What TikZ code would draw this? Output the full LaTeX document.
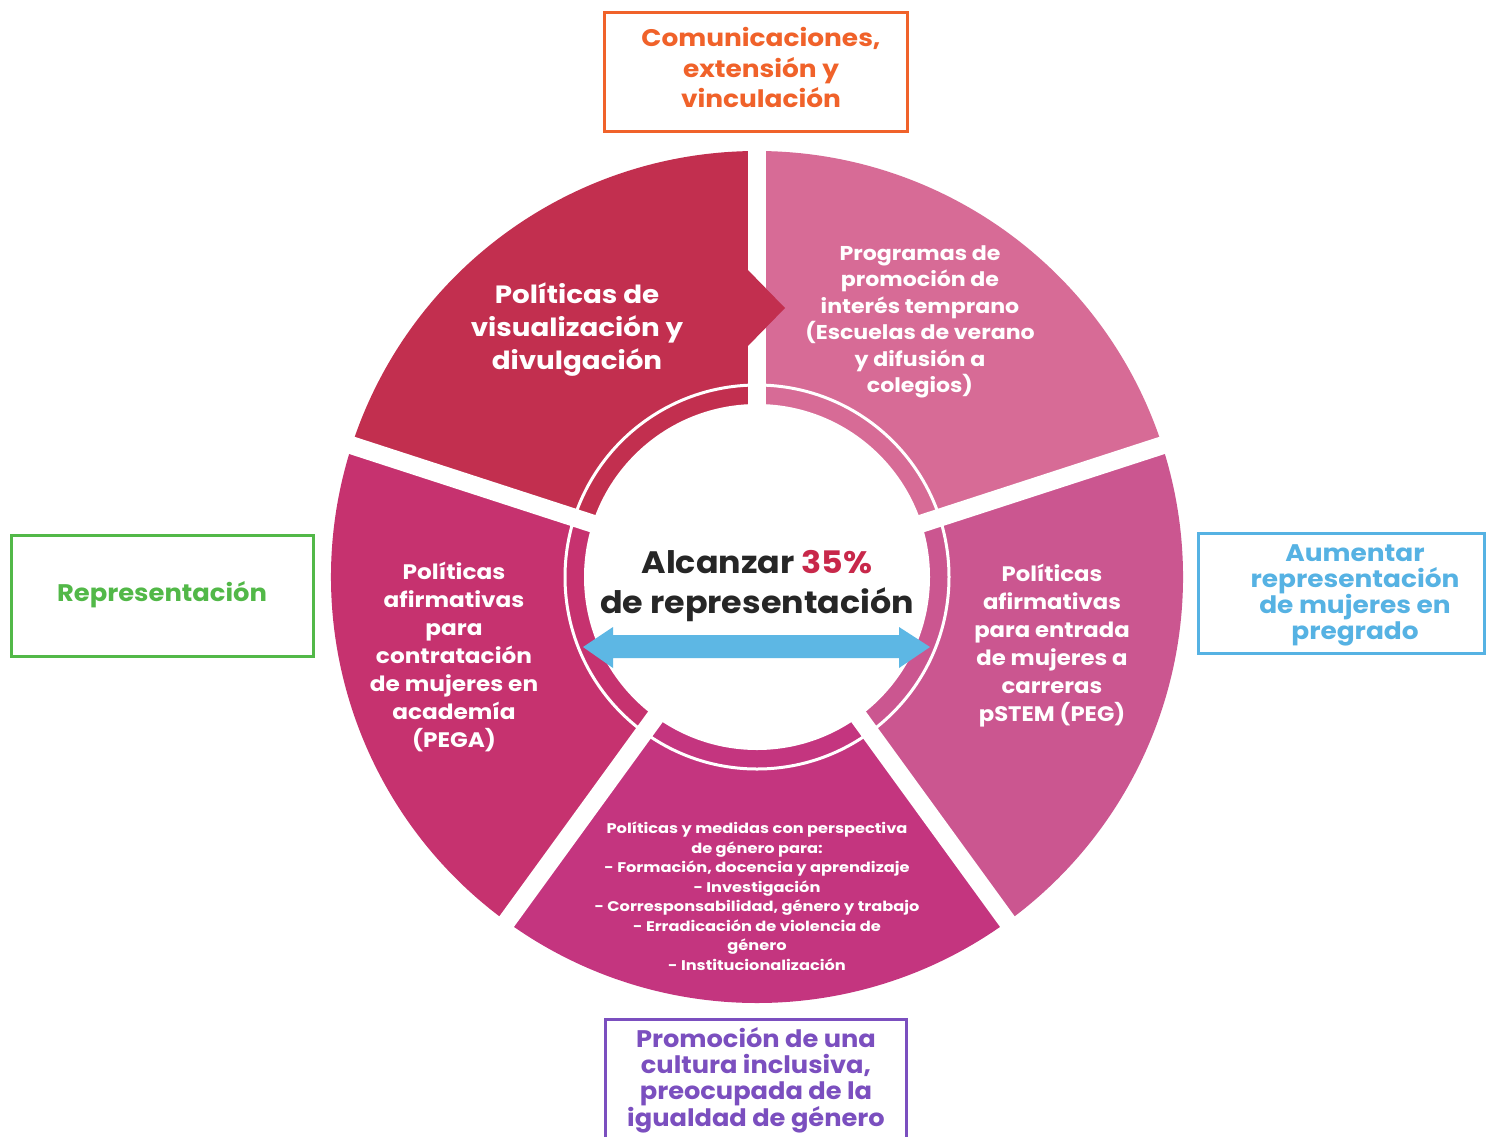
\documentclass[tikz,border=0pt]{standalone}
\usepackage{fontspec}
\setmainfont{Poppins}
\usetikzlibrary{calc}
\newcommand\pfont[3]{\bfseries\fontsize{#1}{#2}\selectfont\addfontfeatures{FakeStretch=#3}}
\definecolor{tlcol}{RGB}{194,47,79}
\definecolor{trcol}{RGB}{215,107,150}
\definecolor{rcol}{RGB}{203,86,144}
\definecolor{bcol}{RGB}{196,53,127}
\definecolor{lcol}{RGB}{198,50,111}
\definecolor{arrblue}{RGB}{93,183,228}
\definecolor{redpct}{RGB}{200,40,74}
\definecolor{darktxt}{RGB}{38,38,38}
\definecolor{orangebox}{RGB}{240,98,42}
\definecolor{greenbox}{RGB}{82,184,72}
\definecolor{bluebox}{RGB}{86,178,227}
\definecolor{purplebox}{RGB}{123,79,191}
\tikzset{
  sectxt/.style={text=white, align=center, inner sep=0pt},
  boxframe/.style={line width=3pt, fill=white},
  boxtxt/.style={align=center, inner sep=0pt, font=\pfont{24}{26}{1.1}},
}
\begin{document}
\begin{tikzpicture}[x=1pt,y=-1pt]
\useasboundingbox (0,0) rectangle (1486,1136);
\fill[white] (0,0) rectangle (1486,1136);
\coordinate (C) at (757,577);
% sectors (code angles are visual angles negated, y grows downward)
\fill[tlcol] (C) -- ++(-162:426) arc[start angle=-162, end angle=-90, radius=426] -- cycle;
\fill[trcol] (C) -- ++(-90:426) arc[start angle=-90, end angle=-18, radius=426] -- cycle;
\fill[rcol] (C) -- ++(-18:426) arc[start angle=-18, end angle=54, radius=426] -- cycle;
\fill[bcol] (C) -- ++(54:426) arc[start angle=54, end angle=126, radius=426] -- cycle;
\fill[lcol] (C) -- ++(126:426) arc[start angle=126, end angle=198, radius=426] -- cycle;
% gaps
\foreach \a in {-90,-18,54,126,-162}
  \draw[white, line width=18pt] (C) -- ++(\a:440);
% thin white ring and inner disc
\draw[white, line width=3pt] (C) circle[radius=192];
\fill[white] (C) circle[radius=173];
% chevron of the first sector
\fill[tlcol] (746,268) -- (785,308) -- (746,348) -- cycle;
% central arrow
\fill[arrblue] (583,647) -- (613,627) -- (613,635) -- (899,635) -- (899,627) -- (930,647)
  -- (899,668) -- (899,658) -- (613,658) -- (613,668) -- cycle;
% centre text
\node[align=center, inner sep=0pt, text=darktxt, font=\pfont{31}{40}{1.075}] (goal) at (757,586)
  {Alcanzar \textcolor{redpct}{35\%}\\de representación};
% sector texts
\node[sectxt, font=\pfont{25}{33}{1.11}] (s1) at (577,330)
  {Políticas de\\visualización y\\divulgación};
\node[sectxt, font=\pfont{20}{26.5}{1.105}] (s2) at (920,322)
  {Programas de\\promoción de\\interés temprano\\(Escuelas de verano\\y difusión a\\colegios)};
\node[sectxt, font=\pfont{21}{28}{1.083}] (s3) at (1052,646)
  {Políticas\\afirmativas\\para entrada\\de mujeres a\\carreras\\pSTEM (PEG)};
\node[sectxt, font=\pfont{21}{28}{1.105}] (s4) at (454,656.5)
  {Políticas\\afirmativas\\para\\contratación\\de mujeres en\\academía\\(PEGA)};
\node[sectxt, font=\pfont{14}{19.5}{1.157}] (s5) at (757,896)
  {Políticas y medidas con perspectiva\\de género para:\\- Formación, docencia y aprendizaje\\- Investigación\\- Corresponsabilidad, género y trabajo\\- Erradicación de violencia de\\género\\- Institucionalización};
% outer boxes
\draw[boxframe, draw=orangebox] (604,12) rectangle (907,131);
\node[boxtxt, text=orangebox, font=\pfont{24}{30.5}{1.1}] (comm) at (761,67.5)
  {Comunicaciones,\\extensión y\\vinculación};
\draw[boxframe, draw=greenbox] (11,535) rectangle (313,656);
\node[boxtxt, text=greenbox, font=\pfont{24}{26}{1.075}] (repr) at (162,595) {Representación};
\draw[boxframe, draw=bluebox] (1198,533) rectangle (1484,653);
\node[boxtxt, text=bluebox] (preg) at (1355,595)
  {Aumentar\\representación\\de mujeres en\\pregrado};
\draw[boxframe, draw=purplebox] (605,1019) rectangle (906,1142);
\node[boxtxt, text=purplebox, font=\pfont{24}{26}{1.07}] (cult) at (756,1080.5)
  {Promoción de una\\cultura inclusiva,\\preocupada de la\\igualdad de género};
\end{tikzpicture}
\end{document}
